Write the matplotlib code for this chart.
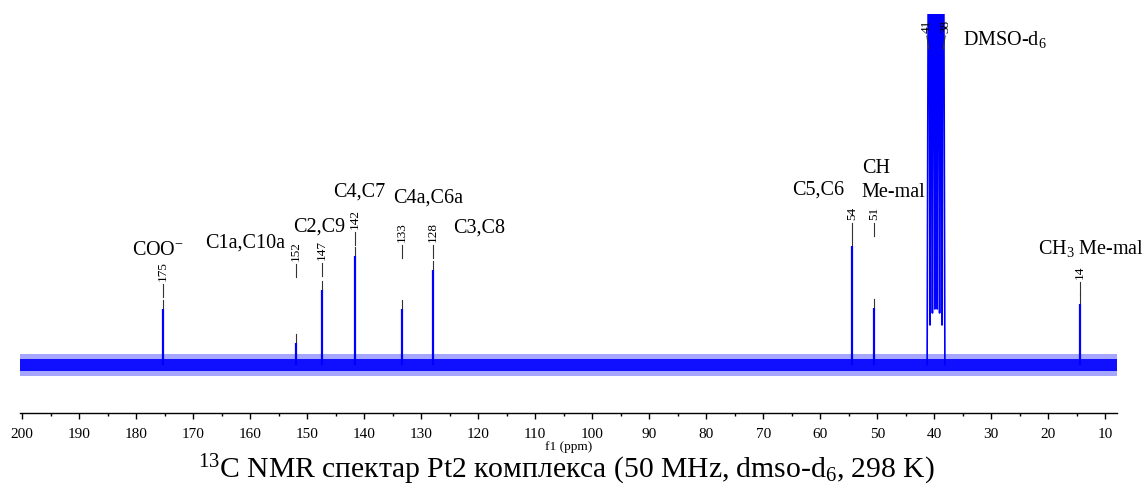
import matplotlib
matplotlib.use("Agg")
import matplotlib.pyplot as plt
from matplotlib.ticker import MultipleLocator

plt.rcParams['font.family'] = ['Liberation Serif', 'DejaVu Serif']
plt.rcParams['mathtext.fontset'] = 'custom'
plt.rcParams['mathtext.rm'] = 'Liberation Serif'
plt.rcParams['mathtext.it'] = 'Liberation Serif:italic'
plt.rcParams['mathtext.default'] = 'regular'

# 13C peak list: shift (ppm) and intensity (baseline = 0)
peak_ppm = [175.3, 152.0, 147.4, 141.6, 133.4, 127.9, 54.4, 50.6, 14.4]
peak_int = [56, 22, 75, 109, 56, 95, 119, 57, 61]
label_y = [84, 104, 105, 136, 123, 123, 145, 145, 86]

# DMSO-d6 solvent septet (off scale)
dmso_ppm = [40.96, 40.54, 40.12, 39.70, 39.28, 38.86, 38.44]
dmso_int = [600, 600, 600, 600, 600, 600, 600]
dmso_valley = [40, 52, 56, 56, 52, 40]
dmso_labelled = [40.96, 38.44]
dmso_label_x = [41.3, 38.1]
dmso_label_y = 332

spectral_window = [200.4, 8.0]
noise_level = 6

# assignments
assign_text = ["COO$^{-}$", "C1a,C10a", "C2,C9", "C4,C7", "C4a,C6a", "C3,C8",
               "C5,C6", "CH", "Me-mal", "DMSO-d$_6$", "CH$_3$ Me-mal"]
assign_ppm = [180.75, 168.0, 152.5, 145.5, 135.0, 124.4, 65.0, 52.7, 52.7, 35.0, 21.8]
assign_y = [110, 117, 133, 168, 162, 132, 170, 192, 168, 320, 111]

blue = '#0000ff'
dark = '#333333'

fig = plt.figure(figsize=(11.43, 4.87), dpi=100)
ax = fig.add_axes([20 / 1143, 74 / 487, 1096.7 / 1143, 399 / 487])
ax.set_xlim(spectral_window[0], spectral_window[1])
ax.set_ylim(-48, 351)

# baseline noise band
ax.fill_between(spectral_window, -noise_level - 5, noise_level + 5, color=blue, alpha=0.35, lw=0)
ax.fill_between(spectral_window, -noise_level, noise_level, color=blue, alpha=0.9, lw=0)

# sample peaks
ax.vlines(peak_ppm, 0, peak_int, color=blue, lw=1.6)

# solvent multiplet
xs = [dmso_ppm[0] + 0.3]
ys = [0]
for i, p in enumerate(dmso_ppm):
    xs.append(p)
    ys.append(dmso_int[i])
    if i < len(dmso_valley):
        xs.append((p + dmso_ppm[i + 1]) / 2)
        ys.append(dmso_valley[i])
xs.append(dmso_ppm[-1] - 0.3)
ys.append(0)
ax.plot(xs, ys, color=blue, lw=1.2)

# peak picking labels
def pick(p, h, ly, lx=None):
    if lx is None:
        lx = p
    ax.text(lx, ly, f"{p:.0f}", rotation=90, ha='center', va='bottom', fontsize=9.5)
    ax.plot([lx, p], [ly - 3, ly - 16], color=dark, lw=0.8)
    if h < ly:
        ax.plot([p, p], [h + 1, h + 9], color=dark, lw=0.8)

for p, h, ly in zip(peak_ppm, peak_int, label_y):
    pick(p, h, ly)
for p, lx in zip(dmso_labelled, dmso_label_x):
    pick(p, 1000, dmso_label_y, lx)

for t, x, y in zip(assign_text, assign_ppm, assign_y):
    ax.text(x, y, t, ha='left', va='baseline', fontsize=14.5)

for s in ['left', 'top', 'right']:
    ax.spines[s].set_visible(False)
ax.spines['bottom'].set_linewidth(1.0)
ax.set_yticks([])
ax.xaxis.set_major_locator(MultipleLocator(10))
ax.xaxis.set_minor_locator(MultipleLocator(5))
ax.tick_params(axis='x', which='major', direction='out', length=4.5, width=1, labelsize=11, pad=6)
ax.tick_params(axis='x', which='minor', direction='out', length=2.3, width=1)

fig.text(569 / 1143, 1 - 447 / 487, "f1 (ppm)", ha='center', va='center', fontsize=9.5)
fig.text(566 / 1143, 1 - 470 / 487,
         "$^{13}$C NMR спектар Pt2 комплекса (50 MHz, dmso-d$_6$, 298 K)",
         ha='center', va='center', fontsize=21.3)

fig.savefig("out.png", dpi=100)
